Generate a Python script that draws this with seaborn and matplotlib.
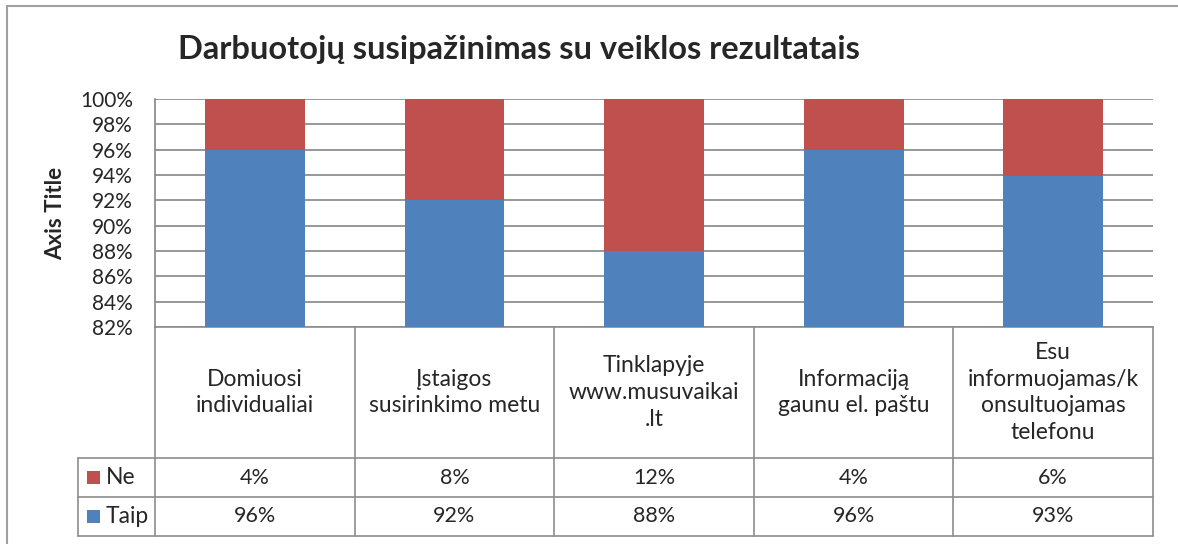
import matplotlib
matplotlib.use("Agg")
import matplotlib.pyplot as plt
import matplotlib.transforms as mtransforms
from matplotlib.lines import Line2D
from matplotlib.patches import Rectangle
import pandas as pd
import seaborn as sns

W, H = 1178, 544

categories = [
    "Domiuosi\nindividualiai",
    "Įstaigos\nsusirinkimo metu",
    "Tinklapyje\nwww.musuvaikai\n.lt",
    "Informaciją\ngaunu el. paštu",
    "Esu\ninformuojamas/k\nonsultuojamas\ntelefonu",
]
taip = [96, 92, 88, 96, 93]
ne = [4, 8, 12, 4, 6]
series_names = ["Ne", "Taip"]
y_ticks = [82, 84, 86, 88, 90, 92, 94, 96, 98, 100]

BLUE = "#4F81BD"
RED = "#C0504D"
GRID = "#868686"
LINE = "#8c8c8c"

sns.set_theme(style="white")
plt.rcParams["font.family"] = ["Lato", "DejaVu Sans"]

df = pd.DataFrame({"cat": categories, "taip": taip, "ne": ne})
# 100% stacked: normalise each column
df["total"] = df["taip"] + df["ne"]
df["taip_pct"] = df["taip"] / df["total"] * 100
df["full"] = 100.0

fig = plt.figure(figsize=(W / 100, H / 100), dpi=100)
ax = fig.add_axes([155 / W, (H - 327) / H, (1153 - 155) / W, (327 - 99) / H])

sns.barplot(data=df, x="cat", y="full", color=RED, width=0.5,
            saturation=1, linewidth=0, ax=ax, zorder=3)
sns.barplot(data=df, x="cat", y="taip_pct", color=BLUE, width=0.5,
            saturation=1, linewidth=0, ax=ax, zorder=3)

ax.set_ylim(82, 100)
ax.set_xlim(-0.5, len(categories) - 0.5)
ax.set_yticks(y_ticks)
ax.set_yticklabels([f"{t}%" for t in y_ticks], fontsize=15)
ax.yaxis.grid(True, color=GRID, linewidth=1.2, zorder=0)
ax.set_axisbelow(True)
ax.set_xticks([])
ax.set_xlabel("")
ax.set_ylabel("")
ax.tick_params(axis="y", length=0, pad=16)
for side in ["top", "right", "bottom"]:
    ax.spines[side].set_visible(False)
ax.spines["left"].set_color(GRID)
ax.spines["left"].set_linewidth(1.2)

# data table below the plot
tr = mtransforms.blended_transform_factory(ax.transData, ax.transAxes)
px = 1 / 228
y_head = -(458 - 327) * px
y_ne = -(497 - 327) * px
y_taip = -(536 - 327) * px
x_leg = -0.5 - (155 - 78) / 199.6
n = len(categories)

def hline(x0, x1, y):
    ax.add_line(Line2D([x0, x1], [y, y], transform=tr, color=LINE,
                       linewidth=1.2, clip_on=False))

def vline(x, y0, y1):
    ax.add_line(Line2D([x, x], [y0, y1], transform=tr, color=LINE,
                       linewidth=1.2, clip_on=False))

hline(-0.5, n - 0.5, 0)
for y in [y_head, y_ne, y_taip]:
    hline(x_leg, n - 0.5, y)
for i in range(n + 1):
    vline(i - 0.5, 0, y_taip)
vline(x_leg, y_head, y_taip)

for i, c in enumerate(categories):
    ax.text(i, y_head / 2, c, transform=tr, ha="center", va="center",
            fontsize=16.5, linespacing=1.35)
    ax.text(i, (y_head + y_ne) / 2, f"{ne[i]}%", transform=tr,
            ha="center", va="center", fontsize=15.5)
    ax.text(i, (y_ne + y_taip) / 2, f"{taip[i]}%", transform=tr,
            ha="center", va="center", fontsize=15.5)

sq = 13 / 199.6
for name, color, y0, y1 in [(series_names[0], RED, y_head, y_ne),
                            (series_names[1], BLUE, y_ne, y_taip)]:
    ym = (y0 + y1) / 2
    ax.add_patch(Rectangle((x_leg + 9 / 199.6, ym - 6.5 * px), sq, 13 * px,
                           transform=tr, facecolor=color, edgecolor="none",
                           clip_on=False))
    ax.text(x_leg + 28 / 199.6, ym, name, transform=tr, ha="left",
            va="center", fontsize=16.5)

fig.text(519 / W, 1 - 50 / H, "Darbuotojų susipažinimas su veiklos rezultatais",
         ha="center", va="center", fontsize=23.5, fontweight="bold")
fig.text(56 / W, 1 - 213 / H, "Axis Title", rotation=90, ha="center",
         va="center", fontsize=16, fontweight="bold")

# outer chart frame (left and top edges visible)
fig.add_artist(Line2D([7 / W, 7 / W], [0, 1 - 5.5 / H], transform=fig.transFigure,
                      color="#a0a0a0", linewidth=1.5))
fig.add_artist(Line2D([7 / W, 1], [1 - 5.5 / H, 1 - 5.5 / H],
                      transform=fig.transFigure, color="#a0a0a0", linewidth=1.5))

fig.savefig("out.png", dpi=100)
plt.close(fig)
